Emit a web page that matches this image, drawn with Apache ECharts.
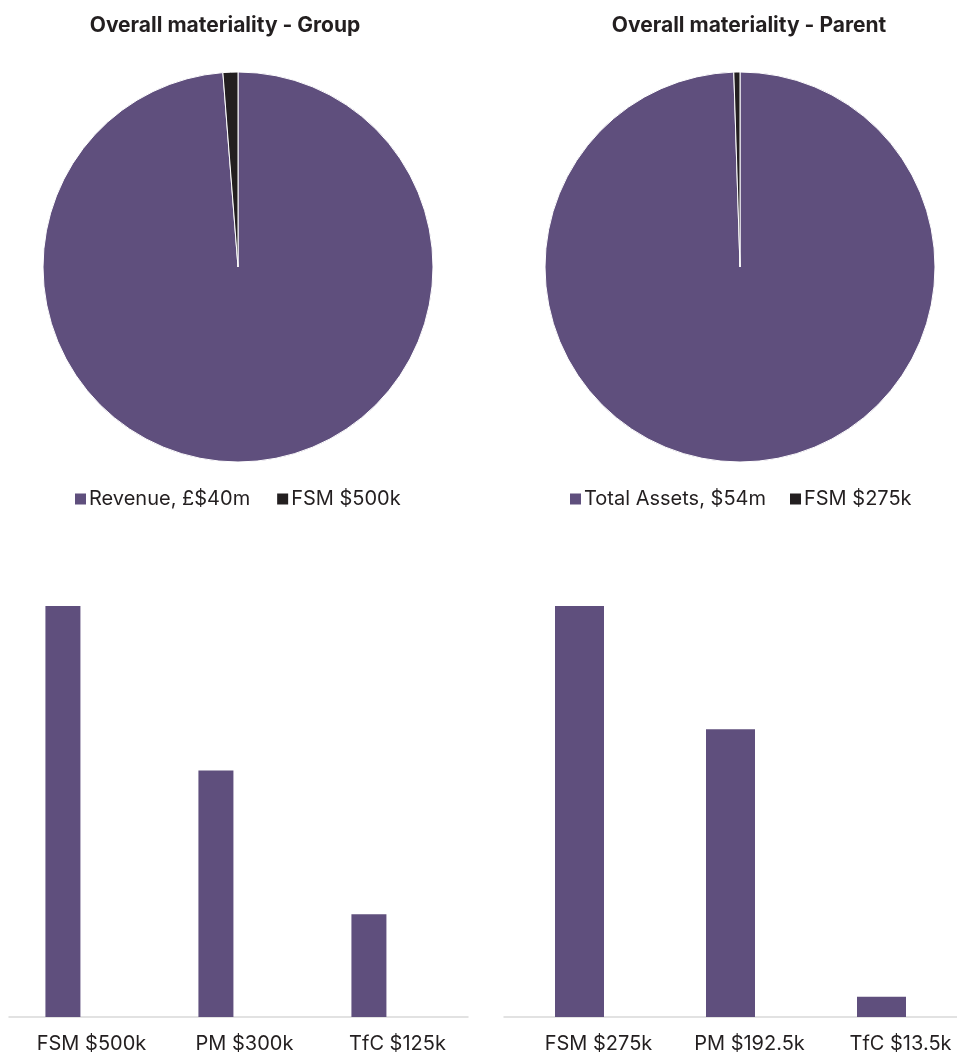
<!DOCTYPE html>
<html>
<head>
<meta charset="utf-8">
<script src="https://cdn.jsdelivr.net/npm/echarts@6/dist/echarts.min.js"></script>
<style>
  html, body { margin: 0; padding: 0; background: #ffffff; }
  #chart { width: 957px; height: 1055px; }
</style>
</head>
<body>
<div id="chart"></div>
<script>
// Overall materiality (values in $k)
const groupPieNames = ['Revenue, £$40m', 'FSM $500k'];
const groupPieValues = [40000, 500];
const parentPieNames = ['Total Assets, $54m', 'FSM $275k'];
const parentPieValues = [54000, 275];

// Materiality levels (values in $k)
const groupBarCategories = ['FSM $500k', 'PM $300k', 'TfC $125k'];
const groupBarValues = [500, 300, 125];
const parentBarCategories = ['FSM $275k', 'PM $192.5k', 'TfC $13.5k'];
const parentBarValues = [275, 192.5, 13.5];

const PURPLE = '#5F4F7D';
const DARK = '#231F20';
const FONT = 'Inter, "Noto Sans", sans-serif';
const sliceColors = [PURPLE, DARK];

const chart = echarts.init(document.getElementById('chart'), null, { renderer: 'canvas' });

function pieData(names, values) {
  return names.map((n, i) => ({ name: n, value: values[i], itemStyle: { color: sliceColors[i] } }));
}

function categoryAxis(gridIndex, cats, shift) {
  return {
    type: 'category',
    gridIndex: gridIndex,
    data: cats,
    axisLine: { show: true, lineStyle: { color: '#D9D9D9', width: 1.5 } },
    axisTick: { show: false },
    axisLabel: {
      color: DARK, fontFamily: FONT, fontSize: 20, margin: 17,
      padding: [0, 0, 0, shift], interval: 0
    }
  };
}

function pieLegend(names, left, gap) {
  return {
    data: names, left: left, top: 484, itemWidth: 11, itemHeight: 11, itemGap: gap,
    icon: 'rect', selectedMode: false,
    itemStyle: { borderWidth: 0, borderColor: 'transparent' },
    textStyle: { fontFamily: FONT, fontSize: 20, color: DARK, padding: [0, 0, 0, -2] }
  };
}

const titleStyle = { fontFamily: FONT, fontWeight: 'bold', fontSize: 21, color: DARK };

chart.setOption({
  animation: false,
  textStyle: { fontFamily: FONT },
  title: [
    { text: 'Overall materiality - Group', left: 220, top: 10, textAlign: 'center', textStyle: titleStyle },
    { text: 'Overall materiality - Parent', left: 744, top: 10, textAlign: 'center', textStyle: titleStyle }
  ],
  legend: [
    pieLegend(groupPieNames, 70, 27),
    pieLegend(parentPieNames, 565, 24)
  ],
  grid: [
    { left: 9, width: 459, top: 606, height: 411, containLabel: false },
    { left: 504, width: 466, top: 606, height: 411, containLabel: false }
  ],
  xAxis: [
    categoryAxis(0, groupBarCategories, 12),
    categoryAxis(1, parentBarCategories, 38)
  ],
  yAxis: [
    { type: 'value', gridIndex: 0, min: 0, max: 500, show: false },
    { type: 'value', gridIndex: 1, min: 0, max: 275, show: false }
  ],
  series: [
    {
      type: 'pie', name: 'Group', center: [238, 267], radius: [0, 195],
      startAngle: 90, clockwise: true, label: { show: false }, labelLine: { show: false },
      silent: true,
      itemStyle: { borderColor: '#ffffff', borderWidth: 1 },
      data: pieData(groupPieNames, groupPieValues)
    },
    {
      type: 'pie', name: 'Parent', center: [740, 267], radius: [0, 195],
      startAngle: 90, clockwise: true, label: { show: false }, labelLine: { show: false },
      silent: true,
      itemStyle: { borderColor: '#ffffff', borderWidth: 1 },
      data: pieData(parentPieNames, parentPieValues)
    },
    {
      type: 'bar', name: 'Group materiality', xAxisIndex: 0, yAxisIndex: 0,
      barWidth: 35, barGap: '29%', silent: true,
      itemStyle: { color: PURPLE },
      data: groupBarValues
    },
    {
      // empty companion series: keeps the group bars sitting left of each category centre
      type: 'bar', name: 'Group spacer', xAxisIndex: 0, yAxisIndex: 0,
      barWidth: 35, silent: true,
      itemStyle: { color: PURPLE },
      data: []
    },
    {
      type: 'bar', name: 'Parent materiality', xAxisIndex: 1, yAxisIndex: 1,
      barWidth: 49, silent: true,
      itemStyle: { color: PURPLE },
      data: parentBarValues
    }
  ]
});
</script>
</body>
</html>
